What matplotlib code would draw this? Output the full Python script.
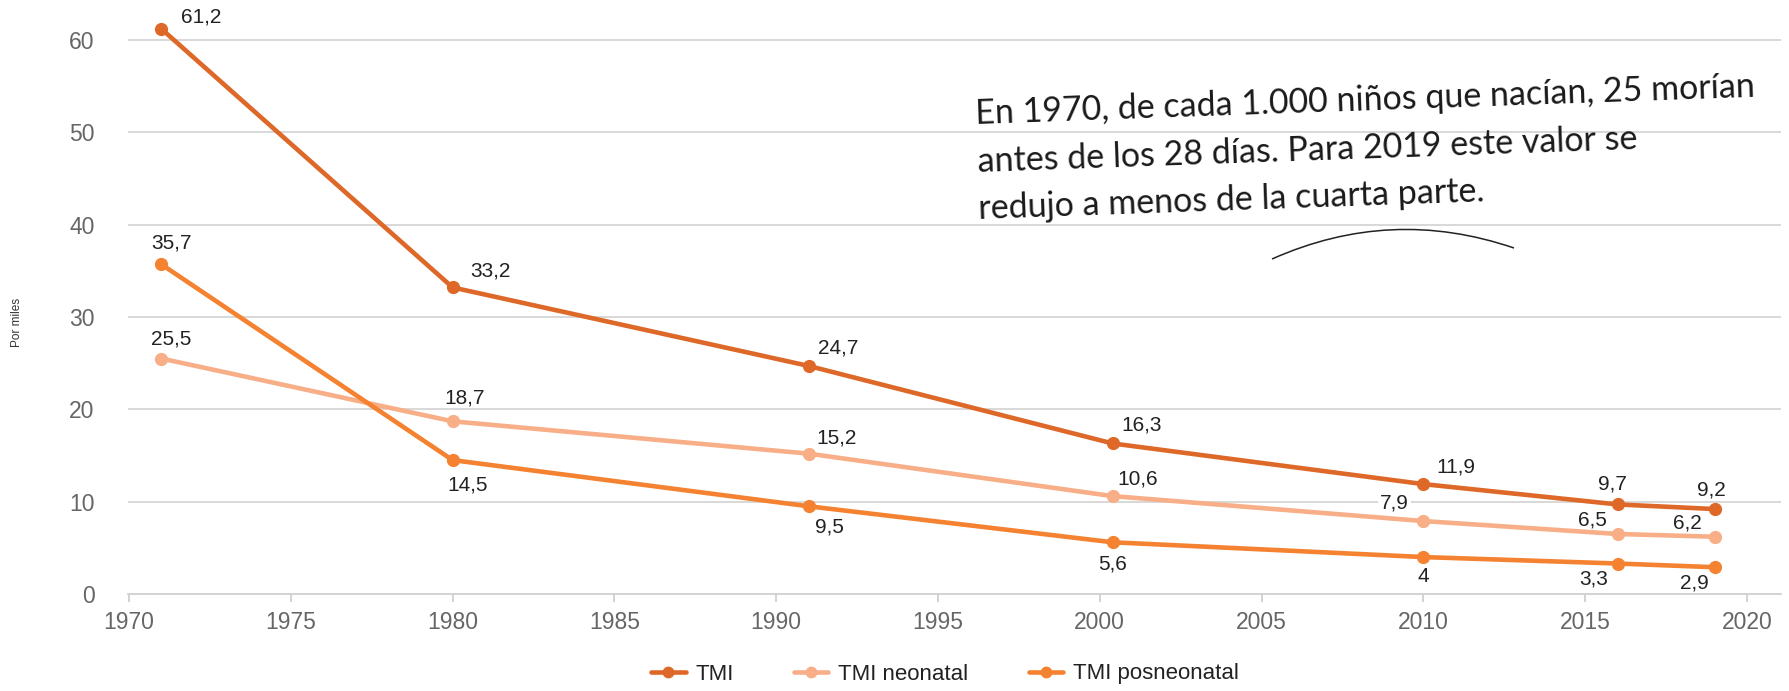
import matplotlib
matplotlib.use("Agg")
import matplotlib.pyplot as plt
from matplotlib.path import Path
from matplotlib.patches import PathPatch

# data (years as placed on the axis of the original chart)
years = [1971, 1980, 1991, 2000.4, 2010, 2016, 2019]
tmi = [61.2, 33.2, 24.7, 16.3, 11.9, 9.7, 9.2]
tmi_neo = [25.5, 18.7, 15.2, 10.6, 7.9, 6.5, 6.2]
tmi_pos = [35.7, 14.5, 9.5, 5.6, 4.0, 3.3, 2.9]
series_names = ["TMI", "TMI neonatal", "TMI posneonatal"]
x_ticks = list(range(1970, 2021, 5))
y_ticks = [0, 10, 20, 30, 40, 50, 60]

colors = ["#DD6828", "#F8AE87", "#F48230"]

# label offsets in pixels (dx, dy) for each point
off_tmi = [(40, 12), (38, 16), (30, 18), (29, 18), (32, 17), (-5, 20), (-3, 19)]
off_neo = [(10, 20), (12, 23), (28, 16), (25, 17), (-29, 18), (-25, 14), (-27, 14)]
off_pos = [(10, 21), (15, -25), (21, -21), (0, -22), (0, -19), (-24, -15), (-20, -16)]

W, H = 1789, 691
plt.rcParams['font.family'] = ['Liberation Sans', 'DejaVu Sans']
fig = plt.figure(figsize=(W / 100, H / 100), dpi=100)
ax = fig.add_axes([128 / W, (H - 594) / H, (1781 - 128) / W, (594 - 3) / H])

ax.set_xlim(1970 - 1 / 32.36, 2020 + 34 / 32.36)
ax.set_ylim(0, 64)

for y in y_ticks[1:]:
    ax.axhline(y, color="#d6d6d6", lw=1.3, zorder=1)

for vals, col, name, offs in [(tmi, colors[0], series_names[0], off_tmi),
                              (tmi_neo, colors[1], series_names[1], off_neo),
                              (tmi_pos, colors[2], series_names[2], off_pos)]:
    ax.plot(years, vals, color=col, lw=3.3, marker="o", markersize=8.5,
            label=name, zorder=3, solid_capstyle="round")
    for x, v, (dx, dy) in zip(years, vals, offs):
        txt = ("%g" % v).replace(".", ",")
        bb = None
        if name == "TMI neonatal" and x == 2010:
            bb = dict(boxstyle="square,pad=0.1", fc="white", ec="none")
        ax.annotate(txt, (x, v), xytext=(dx, dy), textcoords="offset pixels",
                    ha="center", va="center", fontsize=15, color="#222222",
                    bbox=bb, zorder=4)

for s in ["top", "right", "left"]:
    ax.spines[s].set_visible(False)
ax.spines["bottom"].set_color("#d0d0d0")
ax.spines["bottom"].set_linewidth(1.3)

ax.set_xticks(x_ticks)
ax.set_xticklabels([str(t) for t in x_ticks])
ax.set_yticks(y_ticks)
ax.tick_params(axis="x", colors="#d0d0d0", length=6, width=1.3, labelsize=16.5,
               labelcolor="#666666", pad=6)
ax.tick_params(axis="y", length=0, labelsize=16.5, labelcolor="#666666", pad=24)

fig.text(17 / W, 1 - 322 / H, "Por miles", rotation=90, ha="center", va="center",
         fontsize=8.5, color="#333333")

leg = fig.legend(loc="center", bbox_to_anchor=(945 / W, 1 - 674 / H), ncol=3,
                 frameon=False, fontsize=16, handlelength=1.55, handletextpad=0.45,
                 columnspacing=2.7)
for t in leg.get_texts():
    t.set_color("#222222")
for h in leg.legend_handles:
    h.set_markersize(7.5)

# handwritten note
note = ("En 1970, de cada 1.000 niños que nacían, 25 morían\n"
        "antes de los 28 días. Para 2019 este valor se\n"
        "redujo a menos de la cuarta parte.")
fig.text(975 / W, 1 - 98 / H, note, ha="left", va="top", rotation=2,
         rotation_mode="anchor", fontsize=24.5, color="#1a1a1a",
         family=["Lato", "DejaVu Sans"], linespacing=1.6)

# arc under the note
p0, c, p2 = (1272, 259), (1391, 206), (1514, 248)
verts = [(p[0] / W, 1 - p[1] / H) for p in (p0, c, p2)]
arc = PathPatch(Path(verts, [Path.MOVETO, Path.CURVE3, Path.CURVE3]),
                transform=fig.transFigure, fill=False, ec="#222222", lw=1.1)
fig.patches.append(arc)

fig.savefig("out.png", dpi=100, facecolor="white")
